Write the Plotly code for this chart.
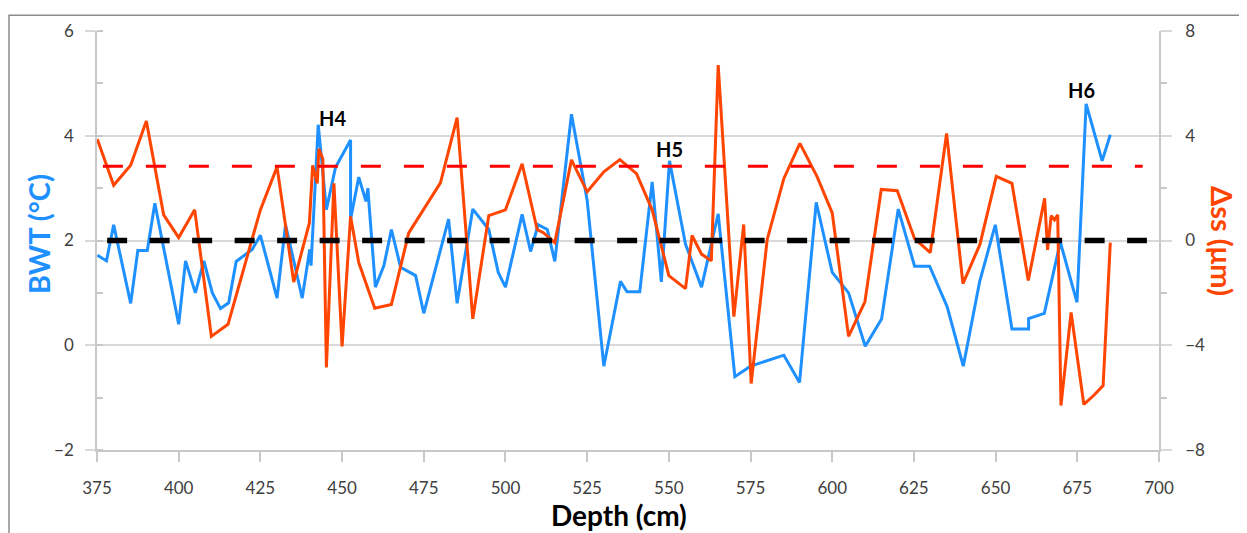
import plotly.graph_objects as go

# ---- data ----
bwt_depth = [375.1, 377.9, 380.1, 385.3, 387.5, 390.4, 392.7, 400.0, 402.1, 405.1,
             407.7, 410.3, 412.8, 415.3, 417.6, 422.5, 425.0, 430.1, 432.7, 437.8,
             440.1, 440.5, 442.7, 445.2, 448.0, 452.6, 452.6, 455.1, 457.3, 457.9,
             458.3, 460.2, 462.8, 465.1, 467.9, 472.5, 475.0, 482.6, 485.2, 490.0,
             494.9, 497.8, 500.0, 505.1, 507.7, 510.0, 512.8, 515.1, 520.2, 525.0,
             530.1, 535.2, 537.2, 541.1, 544.9, 547.7, 550.2, 555.1, 560.0, 565.1,
             570.2, 575.0, 585.2, 590.0, 595.1, 600.0, 605.0, 610.1, 615.1, 620.2,
             625.2, 629.8, 635.2, 640.1, 645.1, 649.9, 655.0, 660.1, 660.1, 664.9,
             669.8, 674.9, 677.7, 682.6, 685.1]
bwt_values = [1.72, 1.61, 2.30, 0.80, 1.81, 1.81, 2.71, 0.40, 1.61, 1.00,
              1.61, 1.00, 0.70, 0.81, 1.60, 1.83, 2.10, 0.90, 2.30, 0.90,
              1.83, 1.52, 4.21, 2.59, 3.40, 3.92, 2.40, 3.21, 2.75, 3.00,
              2.65, 1.11, 1.52, 2.21, 1.49, 1.33, 0.61, 2.41, 0.80, 2.60,
              2.21, 1.39, 1.11, 2.50, 1.79, 2.30, 2.21, 1.60, 4.41, 2.77,
              -0.40, 1.22, 1.02, 1.02, 3.12, 1.21, 3.52, 1.93, 1.11, 2.51,
              -0.60, -0.40, -0.19, -0.71, 2.73, 1.39, 1.00, -0.02, 0.50, 2.60,
              1.51, 1.51, 0.73, -0.40, 1.21, 2.30, 0.31, 0.31, 0.51, 0.61,
              1.97, 0.82, 4.61, 3.52, 4.02]

ss_depth = [375.1, 380.1, 385.3, 390.1, 395.4, 400.0, 404.9, 410.0, 415.1, 425.0,
            430.1, 435.2, 440.0, 441.0, 442.4, 442.9, 444.1, 445.2, 447.5, 450.0,
            452.6, 455.1, 460.0, 465.1, 470.4, 480.1, 485.2, 490.0, 494.9, 500.0,
            505.1, 509.7, 511.7, 515.1, 520.2, 525.0, 530.1, 535.0, 540.1, 544.9,
            550.0, 555.1, 557.1, 560.0, 563.0, 565.1, 569.9, 572.9, 575.2, 580.1,
            585.2, 590.1, 595.4, 600.0, 605.0, 610.0, 615.0, 619.9, 625.2, 630.0,
            635.0, 640.0, 645.2, 650.2, 655.0, 660.0, 665.0, 665.9, 667.0, 668.0,
            669.0, 670.0, 673.1, 677.0, 680.0, 682.9, 685.1]
ss_values = [3.87, 2.11, 2.87, 4.56, 0.98, 0.11, 1.17, -3.66, -3.20, 1.17,
             2.81, -1.59, 0.67, 2.87, 2.18, 3.50, 3.12, -4.85, 2.18, -4.04,
             0.92, -0.84, -2.59, -2.44, 0.29, 2.20, 4.69, -2.99, 0.95, 1.17,
             2.93, 0.42, 0.29, -0.08, 3.08, 1.86, 2.62, 3.09, 2.55, 1.17,
             -1.34, -1.84, 0.19, -0.52, -0.77, 6.70, -2.91, 0.61, -5.46, 0.04,
             2.37, 3.71, 2.43, 1.05, -3.66, -2.34, 1.95, 1.90, 0.07, -0.46,
             4.09, -1.65, -0.15, 2.45, 2.18, -1.53, 1.61, -0.36, 0.95, 0.79,
             0.98, -6.30, -2.75, -6.26, -5.92, -5.54, -0.08]

threshold_depth = [376.8, 695.0]
threshold_value = [2.84, 2.84]
mean_depth = [378.1, 696.3]
mean_value = [0.0, 0.0]

events = ["H4", "H5", "H6"]
event_depth = [447.2, 550.3, 676.3]
event_bwt = [4.34, 3.75, 4.88]

x_ticks = [375, 400, 425, 450, 475, 500, 525, 550, 575, 600, 625, 650, 675, 700]

# ---- figure ----
BLUE = "#1E90FF"
ORANGE = "#FF4500"
FONT = "Lato"

# the page body adds an 8px offset, so margins are shifted accordingly
L, R, T, B = 89, 96, 17, 91
W, H = 1247, 533
pw, ph = W - L - R, H - T - B
PLOT_LEFT, PLOT_BOTTOM = 8 + L, 8 + H - B   # page pixels


def px(x):
    return (x - PLOT_LEFT) / pw


def py(y):
    return (PLOT_BOTTOM - y) / ph


fig = go.Figure()
fig.add_trace(go.Scatter(x=bwt_depth, y=bwt_values, mode="lines",
                         line=dict(color=BLUE, width=3), name="BWT"))
fig.add_trace(go.Scatter(x=ss_depth, y=ss_values, mode="lines", yaxis="y2",
                         line=dict(color=ORANGE, width=3), name="ss"))
fig.add_trace(go.Scatter(x=threshold_depth, y=threshold_value, mode="lines", yaxis="y2",
                         line=dict(color="#FF0000", width=3, dash="20px,23px")))
fig.add_trace(go.Scatter(x=mean_depth, y=mean_value, mode="lines", yaxis="y2",
                         line=dict(color="black", width=5.5, dash="20px,22.5px")))

for name, xd, yd in zip(events, event_depth, event_bwt):
    fig.add_annotation(x=xd, y=yd, text=f"<b>{name}</b>", showarrow=False,
                       font=dict(family=FONT, size=20, color="black"),
                       xanchor="center", yanchor="middle")

tickfont = dict(family=FONT, size=17, color="#404040")

fig.update_layout(
    width=W, height=H,
    margin=dict(l=L, r=R, t=T, b=B),
    paper_bgcolor="white", plot_bgcolor="white",
    showlegend=False,
    xaxis=dict(range=[375, 700], tickvals=x_ticks, showgrid=False, zeroline=False,
               showline=True, linecolor="#c8c8c8", linewidth=1.5,
               ticks="outside", ticklen=10, tickcolor="#c8c8c8", tickwidth=1.5,
               tickfont=tickfont, ticklabelstandoff=12),
    yaxis=dict(range=[-2, 6], dtick=2, showgrid=True, gridcolor="#d9d9d9", gridwidth=1.5,
               zeroline=False, showline=True, linecolor="#c8c8c8", linewidth=1.5,
               ticks="outside", ticklen=10, tickcolor="#d9d9d9", tickwidth=1.5,
               tickfont=tickfont, ticklabelstandoff=8,
               minor=dict(dtick=1, ticks="inside", ticklen=6, tickcolor="#c8c8c8",
                          tickwidth=1.5, showgrid=False)),
    yaxis2=dict(range=[-8, 8], dtick=4, overlaying="y", side="right", showgrid=False,
                zeroline=False, showline=True, linecolor="#c8c8c8", linewidth=1.5,
                ticks="outside", ticklen=11, tickcolor="#d9d9d9", tickwidth=1.5,
                tickfont=tickfont, ticklabelstandoff=10,
                minor=dict(dtick=2, ticks="outside", ticklen=6, tickcolor="#c8c8c8",
                           tickwidth=1.5)),
)

# axis titles
fig.add_annotation(xref="paper", yref="paper", x=px(619), y=py(516),
                   text="<b>Depth (cm)</b>", showarrow=False,
                   font=dict(family=FONT, size=28, color="black"),
                   xanchor="center", yanchor="middle")
fig.add_annotation(xref="paper", yref="paper", x=px(38), y=py(231),
                   text="<b>BWT (°C)</b>", showarrow=False, textangle=-90,
                   font=dict(family=FONT, size=29, color=BLUE),
                   xanchor="center", yanchor="middle")
fig.add_annotation(xref="paper", yref="paper", x=px(1222), y=py(238),
                   text="<b>Δ<span style='text-decoration:overline'>ss</span> (μm)</b>",
                   showarrow=False, textangle=90,
                   font=dict(family=FONT, size=29, color=ORANGE),
                   xanchor="center", yanchor="middle")

# outer frame (top and left edges visible)
fig.add_shape(type="rect", xref="paper", yref="paper",
              x0=px(9), x1=px(1262), y0=py(548), y1=py(9),
              line=dict(color="#8c8c8c", width=1.5), fillcolor="rgba(0,0,0,0)",
              layer="below")

fig.write_html("out.html")
